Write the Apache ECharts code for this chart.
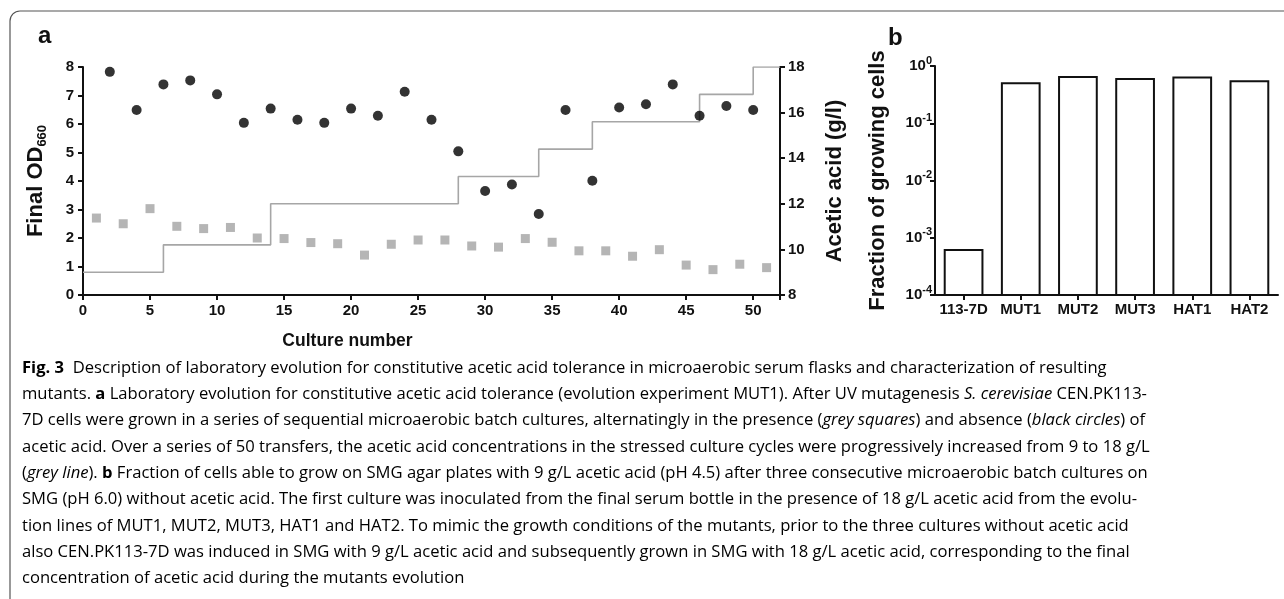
<!DOCTYPE html>
<html>
<head>
<meta charset="utf-8">
<script src="https://cdn.jsdelivr.net/npm/echarts@6/dist/echarts.min.js"></script>
<style>
html,body{margin:0;padding:0;background:#fff}
#main{width:1284px;height:599px}
</style>
</head>
<body>
<div id="main"></div>
<script>
// panel a: culture number vs final OD660 (black = no acid, grey = with acid)
var circleCulture = [2,4,6,8,10,12,14,16,18,20,22,24,26,28,30,32,34,36,38,40,42,44,46,48,50];
var circleOD = [7.83,6.49,7.39,7.53,7.04,6.04,6.54,6.15,6.04,6.54,6.29,7.13,6.15,5.04,3.65,3.88,2.84,6.49,4.01,6.58,6.69,7.39,6.29,6.63,6.49];
var squareCulture = [1,3,5,7,9,11,13,15,17,19,21,23,25,27,29,31,33,35,37,39,41,43,45,47,49,51];
var squareOD = [2.70,2.50,3.03,2.41,2.33,2.37,2.00,1.98,1.84,1.80,1.40,1.78,1.93,1.93,1.72,1.68,1.98,1.85,1.55,1.55,1.36,1.59,1.05,0.89,1.08,0.96];
// acetic acid concentration steps (g/l)
var stepCulture = [0,6,14,28,34,38,46,50,52];
var stepAcid = [9,10.2,12,13.2,14.4,15.6,16.8,18,18];

// panel b
var strains = ['113-7D','MUT1','MUT2','MUT3','HAT1','HAT2'];
var fraction = [0.00061,0.50,0.64,0.59,0.63,0.54];
var logMin = 0.0001;

var F = 'Liberation Sans, Arial, sans-serif';
var CF = 'Open Sans, sans-serif';
var ink = '#111';

function zip(a, b){
  var out = [];
  for (var i = 0; i < a.length; i++) out.push([a[i], b[i]]);
  return out;
}

var tickLbl = {fontFamily:F, fontWeight:'bold', fontSize:15, color:ink};
var axLine = {lineStyle:{color:ink, width:2}};
var axTick = {show:true, inside:false, length:5, lineStyle:{color:ink, width:2}};

// caption lines, rich text
var caption = [
  '{b|Fig. 3}  {n|Description of laboratory evolution for constitutive acetic acid tolerance in microaerobic serum flasks and characterization of resulting}',
  '{n|mutants. }{b|a}{n| Laboratory evolution for constitutive acetic acid tolerance (evolution experiment MUT1). After UV mutagenesis }{i|S. cerevisiae}{n| CEN.PK113-}',
  '{n|7D cells were grown in a series of sequential microaerobic batch cultures, alternatingly in the presence (}{i|grey squares}{n|) and absence (}{i|black circles}{n|) of}',
  '{n|acetic acid. Over a series of 50 transfers, the acetic acid concentrations in the stressed culture cycles were progressively increased from 9 to 18 g/L}',
  '{n|(}{i|grey line}{n|). }{b|b}{n| Fraction of cells able to grow on SMG agar plates with 9 g/L acetic acid (pH 4.5) after three consecutive microaerobic batch cultures on}',
  '{n|SMG (pH 6.0) without acetic acid. The first culture was inoculated from the final serum bottle in the presence of 18 g/L acetic acid from the evolu-}',
  '{n|tion lines of MUT1, MUT2, MUT3, HAT1 and HAT2. To mimic the growth conditions of the mutants, prior to the three cultures without acetic acid}',
  '{n|also CEN.PK113-7D was induced in SMG with 9 g/L acetic acid and subsequently grown in SMG with 18 g/L acetic acid, corresponding to the final}',
  '{n|concentration of acetic acid during the mutants evolution}'
];
var capSize = 16.6;
var capRich = {
  n:{fontFamily:CF, fontSize:capSize, color:'#2b2b2b'},
  b:{fontFamily:CF, fontSize:capSize, fontWeight:'bold', color:'#2b2b2b'},
  i:{fontFamily:CF, fontSize:capSize, fontStyle:'italic', color:'#2b2b2b'}
};

var graphics = [
  {type:'rect', shape:{x:10, y:11, width:1310, height:620, r:10}, style:{fill:'none', stroke:'#555', lineWidth:1.2}, z:0},
  {type:'text', x:38, y:24, style:{text:'a', font:'bold 24px ' + F, fill:ink}},
  {type:'text', x:888, y:26, style:{text:'b', font:'bold 24px ' + F, fill:ink}}
];
caption.forEach(function(line, i){
  graphics.push({type:'text', x:22, y:368 + i*26.3,
    style:{text:line, rich:capRich, verticalAlign:'middle', fontFamily:CF, fontSize:capSize}});
});

var option = {
  animation:false,
  backgroundColor:'#fff',
  grid:[
    {left:83, right:504, top:67, bottom:304},
    {left:935, right:6, top:66, bottom:304}
  ],
  xAxis:[
    {gridIndex:0, type:'value', min:0, max:52, interval:5,
     name:'Culture number', nameLocation:'middle', nameGap:37,
     nameTextStyle:{fontFamily:F, fontWeight:'bold', fontSize:17.5, color:ink, padding:[0,168,0,0]},
     axisLine:axLine, axisTick:axTick, splitLine:{show:false},
     axisLabel:Object.assign({margin:8, formatter:function(v){ return v % 5 === 0 ? v : ''; }}, tickLbl)},
    {gridIndex:1, type:'category', data:strains,
     axisLine:axLine, axisTick:Object.assign({alignWithLabel:true}, axTick),
     axisLabel:Object.assign({margin:7, interval:0}, tickLbl)}
  ],
  yAxis:[
    {gridIndex:0, type:'value', min:0, max:8, interval:1,
     name:'{a|Final OD}{s|660}', nameLocation:'middle', nameGap:34, nameRotate:90,
     nameTextStyle:{rich:{
       a:{fontFamily:F, fontWeight:'bold', fontSize:22, color:ink, lineHeight:26},
       s:{fontFamily:F, fontWeight:'bold', fontSize:13, color:ink, lineHeight:13, verticalAlign:'bottom'}
     }},
     axisLine:Object.assign({show:true}, axLine), axisTick:axTick, splitLine:{show:false},
     axisLabel:Object.assign({margin:9}, tickLbl)},
    {gridIndex:0, type:'value', position:'right', min:8, max:18, interval:2,
     name:'Acetic acid (g/l)', nameLocation:'middle', nameGap:44, nameRotate:90,
     nameTextStyle:{fontFamily:F, fontWeight:'bold', fontSize:22, color:ink},
     axisLine:Object.assign({show:true}, axLine), axisTick:axTick, splitLine:{show:false},
     axisLabel:Object.assign({margin:8}, tickLbl)},
    {gridIndex:1, type:'log', logBase:10, min:logMin, max:1,
     name:'Fraction of growing cells', nameLocation:'middle', nameGap:46, nameRotate:90,
     nameTextStyle:{fontFamily:F, fontWeight:'bold', fontSize:22, color:ink},
     axisLine:Object.assign({show:true}, axLine), axisTick:axTick, splitLine:{show:false},
     minorTick:{show:false},
     axisLabel:{margin:3, formatter:function(v){
       return '{b|10}{s|' + Math.round(Math.log10(v)) + '}';
     }, rich:{
       b:{fontFamily:F, fontWeight:'bold', fontSize:15, color:ink, lineHeight:22},
       s:{fontFamily:F, fontWeight:'bold', fontSize:11, color:ink, lineHeight:10, verticalAlign:'top'}
     }}}
  ],
  series:[
    {name:'Acetic acid', type:'line', xAxisIndex:0, yAxisIndex:1, step:'end',
     data:zip(stepCulture, stepAcid), showSymbol:false,
     lineStyle:{color:'#a6a6a6', width:1.6}, z:1},
    {name:'With acetic acid', type:'scatter', xAxisIndex:0, yAxisIndex:0,
     data:zip(squareCulture, squareOD), symbol:'rect', symbolSize:9,
     itemStyle:{color:'#a3a3a3'}, z:2},
    {name:'Without acetic acid', type:'scatter', xAxisIndex:0, yAxisIndex:0,
     data:zip(circleCulture, circleOD), symbol:'circle', symbolSize:10,
     itemStyle:{color:'#000'}, z:3},
    // bars drawn up from the axis floor (10^-4) on the log scale
    {name:'Fraction', type:'custom', xAxisIndex:1, yAxisIndex:2,
     data:fraction.map(function(v, i){ return [i, v]; }),
     encode:{x:0, y:1},
     renderItem:function(params, api){
       var top = api.coord([api.value(0), api.value(1)]);
       var base = api.coord([api.value(0), logMin]);
       var w = api.size([1, 0])[0] * 0.66;
       return {type:'rect',
         shape:{x:top[0] - w/2, y:top[1], width:w, height:base[1] - top[1]},
         style:{fill:'#fff', stroke:ink, lineWidth:2}};
     }}
  ],
  graphic:graphics
};

var chart = echarts.init(document.getElementById('main'));
chart.setOption(option);
</script>
</body>
</html>
